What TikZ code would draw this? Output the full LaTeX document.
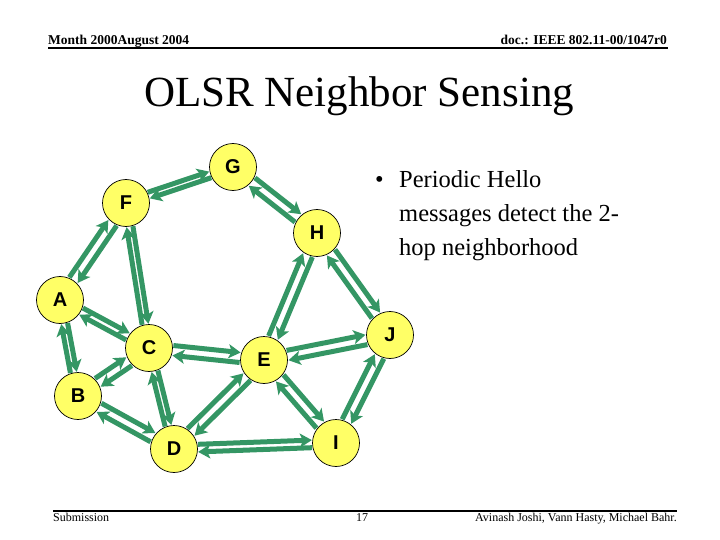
\documentclass[tikz,border=0pt]{standalone}
\usepackage{fontspec}
\setmainfont{Liberation Serif}
\newfontfamily\arialfont{Liberation Sans}
\usetikzlibrary{calc,arrows.meta}
\definecolor{arrgreen}{RGB}{52,150,100}
\definecolor{nodeyellow}{RGB}{255,255,102}
\tikzset{
  nd/.style={circle, draw=black, line width=0.7pt, fill=nodeyellow, minimum size=47pt, inner sep=0pt, font=\arialfont\bfseries\fontsize{20}{20}\selectfont},
  arr/.style={draw=arrgreen, line width=5pt, shorten <=24pt, shorten >=24pt, -{Stealth[length=12pt,width=14pt,inset=3pt]}},
  hdr/.style={font=\bfseries\fontsize{13.5}{14}\selectfont, inner sep=0pt},
  ftr/.style={font=\fontsize{12}{13}\selectfont, inner sep=0pt},
  bul/.style={font=\fontsize{24.5}{26}\selectfont, inner sep=0pt, anchor=base west}
}
\newcommand\biarrow[3][5pt]{%
  \draw[arr] ($(#2)!#1!90:(#3)$) -- ($(#3)!#1!-90:(#2)$);
  \draw[arr] ($(#3)!#1!90:(#2)$) -- ($(#2)!#1!-90:(#3)$);}
\begin{document}
\begin{tikzpicture}[x=1pt,y=-1pt]
\useasboundingbox (0,0) rectangle (720,540);
% header
\node[hdr, anchor=base west] (hl) at (48,45) {Month 2000August 2004};
\node[hdr, anchor=base east] (hr) at (667,45) {doc.: IEEE 802.11-00/1047r0};
\coordinate (hl0) at (48,48.5); \coordinate (hl1) at (668,48.5);
\draw[line width=2pt] (hl0) -- (hl1);
% title
\node[font=\fontsize{43}{45}\selectfont, inner sep=0pt, anchor=base] (title) at (359,107) {OLSR Neighbor Sensing};
% bullet text
\node[bul] (dot) at (375,188) {•};
\node[bul] (t1) at (399,188) {Periodic Hello};
\node[bul] (t2) at (399,221.5) {messages detect the 2-};
\node[bul] (t3) at (399,255) {hop neighborhood};
% nodes
\node[nd] (G) at (233,167) {G};
\node[nd] (F) at (126,203) {F};
\node[nd] (H) at (317,233) {H};
\node[nd] (A) at (60,300) {A};
\node[nd] (C) at (149,348) {C};
\node[nd] (E) at (264,360) {E};
\node[nd] (J) at (390,335) {J};
\node[nd] (B) at (78,396) {B};
\node[nd] (D) at (174,449) {D};
\node[nd] (I) at (336,443) {I};
% connectors
\biarrow[3.2pt]{F}{G}
\biarrow{G}{H}
\biarrow{A}{F}
\biarrow[3.2pt]{F}{C}
\biarrow[3.8pt]{A}{C}
\biarrow[3.2pt]{A}{B}
\biarrow{B}{C}
\biarrow{B}{D}
\biarrow[3.2pt]{C}{D}
\biarrow{C}{E}
\biarrow{E}{H}
\biarrow{H}{J}
\biarrow{E}{J}
\biarrow{E}{I}
\biarrow{D}{E}
\biarrow[3.8pt]{D}{I}
\biarrow{I}{J}
% footer
\coordinate (fl0) at (53,511); \coordinate (fl1) at (677,511);
\draw[line width=2pt] (fl0) -- (fl1);
\node[ftr, anchor=base west] (sub) at (53,521) {Submission};
\node[ftr, anchor=base] (pg) at (362,521) {17};
\node[ftr, anchor=base east] (auth) at (677,521) {Avinash Joshi, Vann Hasty, Michael Bahr.};
\end{tikzpicture}
\end{document}
